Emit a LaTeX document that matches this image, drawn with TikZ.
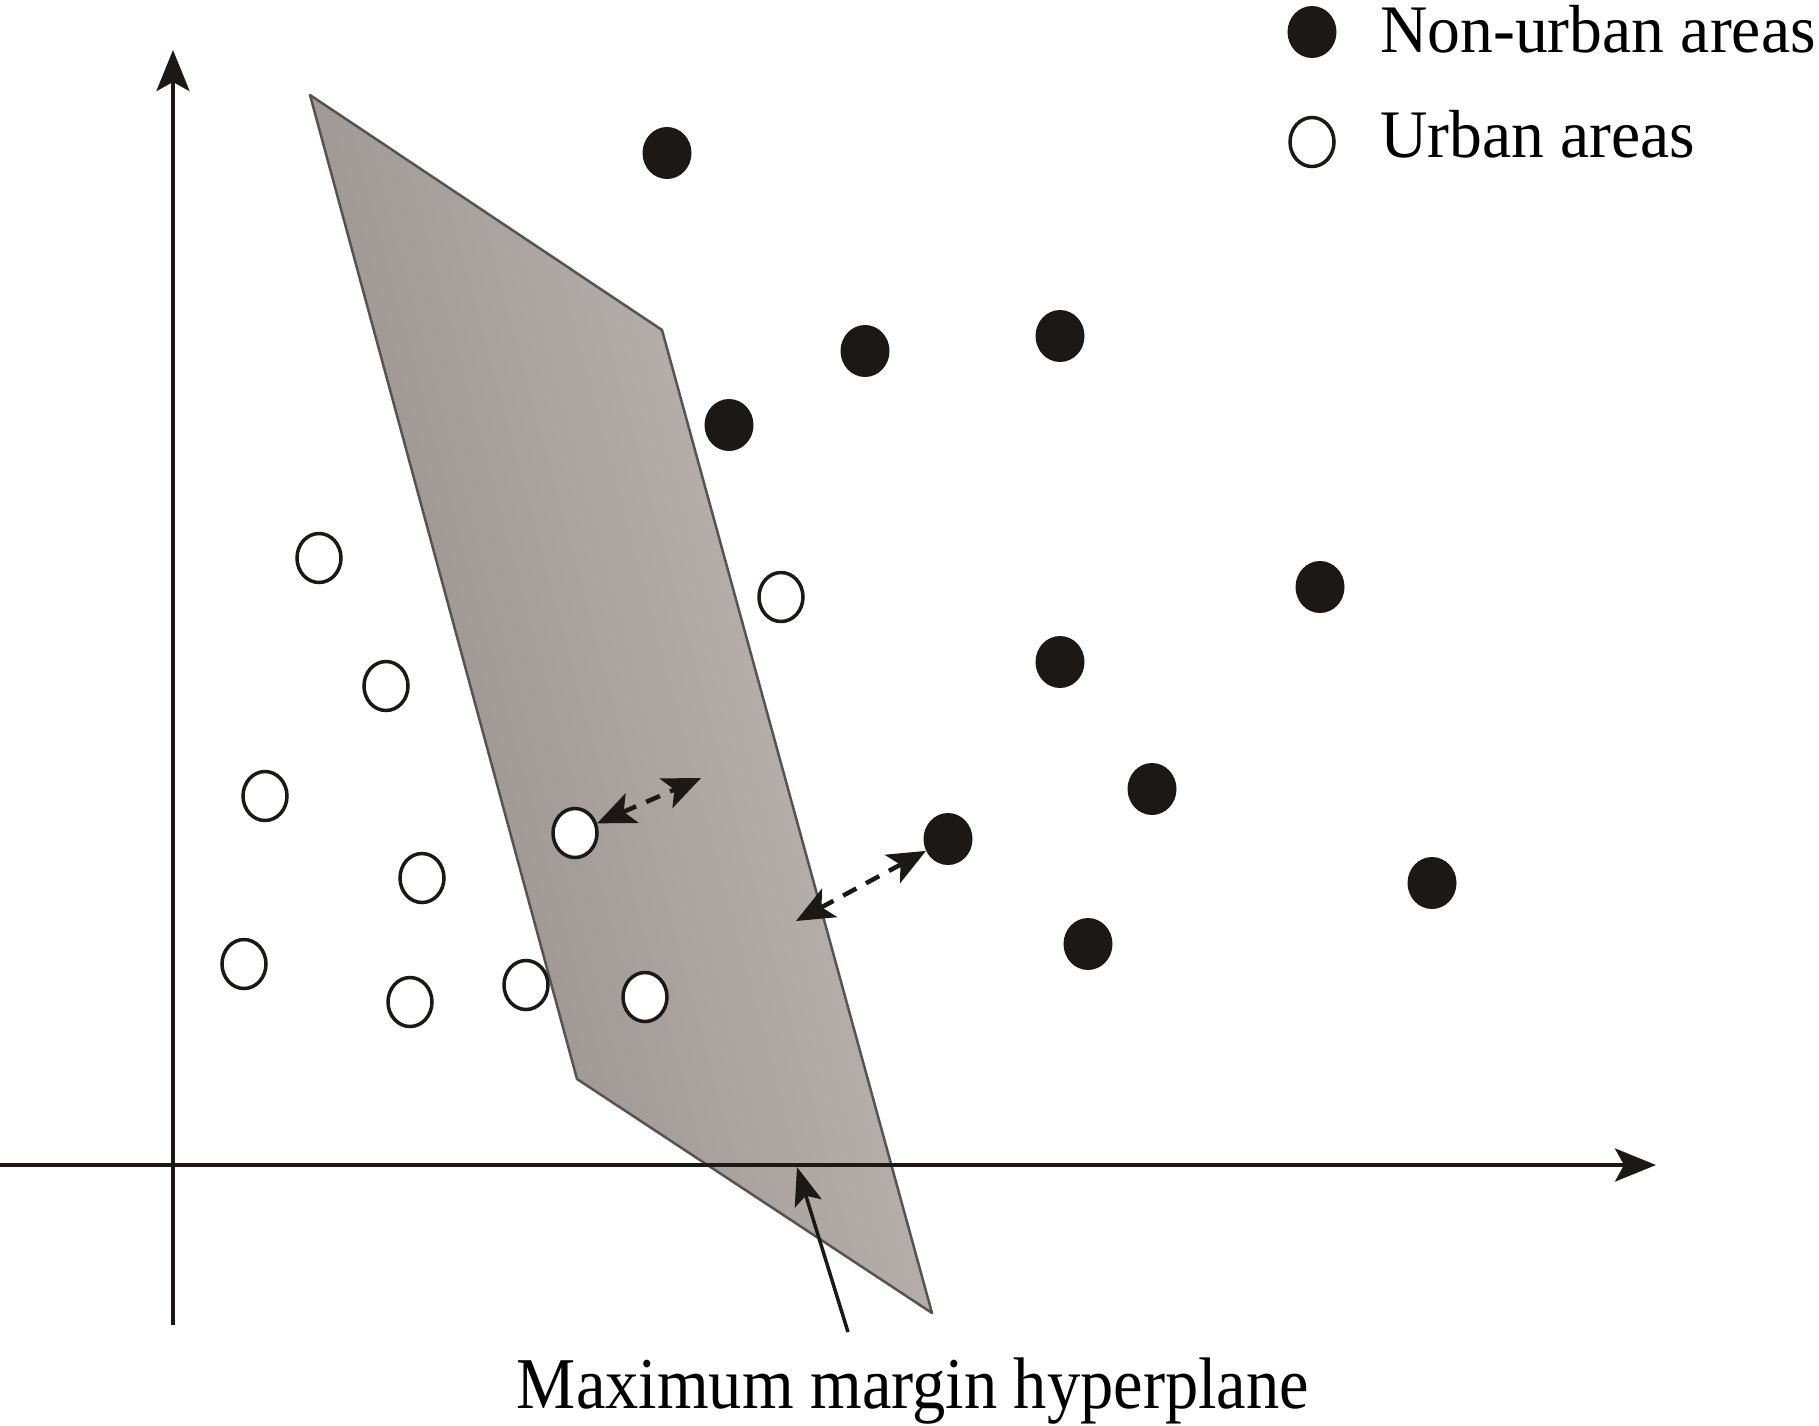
\documentclass[tikz,border=0pt]{standalone}
\usepackage{fontspec}
\usepackage{graphicx}
\setmainfont{Liberation Serif}
\usetikzlibrary{arrows.meta,shapes.geometric}
\definecolor{dotblack}{RGB}{28,24,21}
\definecolor{planedark}{RGB}{146,138,136}
\definecolor{planelight}{RGB}{196,188,184}
\definecolor{planeedge}{RGB}{88,82,80}
\begin{document}
\begin{tikzpicture}[x=1pt,y=-1pt,
  nonurban/.style={ellipse, fill=dotblack, minimum width=49pt, minimum height=52pt, inner sep=0pt},
  urban/.style={ellipse, draw=dotblack, fill=white, line width=3.5pt, minimum width=44pt, minimum height=49pt, inner sep=0pt},
  axisline/.style={line width=4pt, draw=dotblack, -{Stealth[length=41pt,width=33pt,inset=9pt]}},
  marginline/.style={line width=4.5pt, dash pattern=on 15pt off 11pt, draw=dotblack,
     {Stealth[length=38pt,width=32pt,inset=9pt]}-{Stealth[length=38pt,width=32pt,inset=9pt]}},
  pointer/.style={line width=3.5pt, draw=dotblack, -{Stealth[length=38pt,width=28pt,inset=8pt]}},
  lbl/.style={font=\fontsize{68}{72}\selectfont, inner sep=0pt, text=black},
  titlelbl/.style={font=\fontsize{73}{76}\selectfont, inner sep=0pt, text=black},
]
\useasboundingbox (0,0) rectangle (1819,1425);

% hyperplane
\path[draw=planeedge, line width=2.5pt, line join=round, left color=planedark, right color=planelight, shading angle=105]
  (310,95) -- (662,330) -- (932,1313) -- (577,1079) -- cycle;

% axes
\coordinate (ybot) at (173,1325);
\coordinate (ytop) at (173,50);
\coordinate (xleft) at (0,1165);
\coordinate (xright) at (1656,1165);
\draw[axisline] (ybot) -- (ytop);
\draw[axisline] (xleft) -- (xright);

% non-urban points
\node[nonurban] (n1) at (667,153) {};
\node[nonurban] (n2) at (865,351) {};
\node[nonurban] (n3) at (1060,336) {};
\node[nonurban] (n4) at (729,425) {};
\node[nonurban] (n5) at (1320,587) {};
\node[nonurban] (n6) at (1060,662) {};
\node[nonurban] (n7) at (1152,789) {};
\node[nonurban] (n8) at (948,839) {};
\node[nonurban] (n9) at (1432,883) {};
\node[nonurban] (n10) at (1088,944) {};

% urban points
\node[urban] (u1) at (319,558) {};
\node[urban] (u2) at (781,597) {};
\node[urban] (u3) at (386,686) {};
\node[urban] (u4) at (265,796) {};
\node[urban] (u5) at (575,833) {};
\node[urban] (u6) at (422,878) {};
\node[urban] (u7) at (244,964) {};
\node[urban] (u8) at (410,1002) {};
\node[urban] (u9) at (526,985) {};
\node[urban] (u10) at (645,997) {};

% margins
\coordinate (m1) at (701,778);
\coordinate (m2) at (796,921);
\draw[marginline] (u5) -- (m1);
\draw[marginline] (m2) -- (n8);

% label and pointer
\node[titlelbl, anchor=base] (title) at (913,1408) {\scalebox{0.91}[1]{Maximum margin hyperplane}};
\coordinate (ptail) at (848,1332);
\coordinate (ptip) at (797,1167);
\draw[pointer] (ptail) -- (ptip);

% legend
\node[nonurban] (legn) at (1312,32) {};
\node[lbl, anchor=base west] (legntext) at (1380,52) {\scalebox{0.965}[1]{Non-urban areas}};
\node[urban] (legu) at (1312,142) {};
\node[lbl, anchor=base west] (legutext) at (1380,157) {\scalebox{0.965}[1]{Urban areas}};
\end{tikzpicture}
\end{document}
